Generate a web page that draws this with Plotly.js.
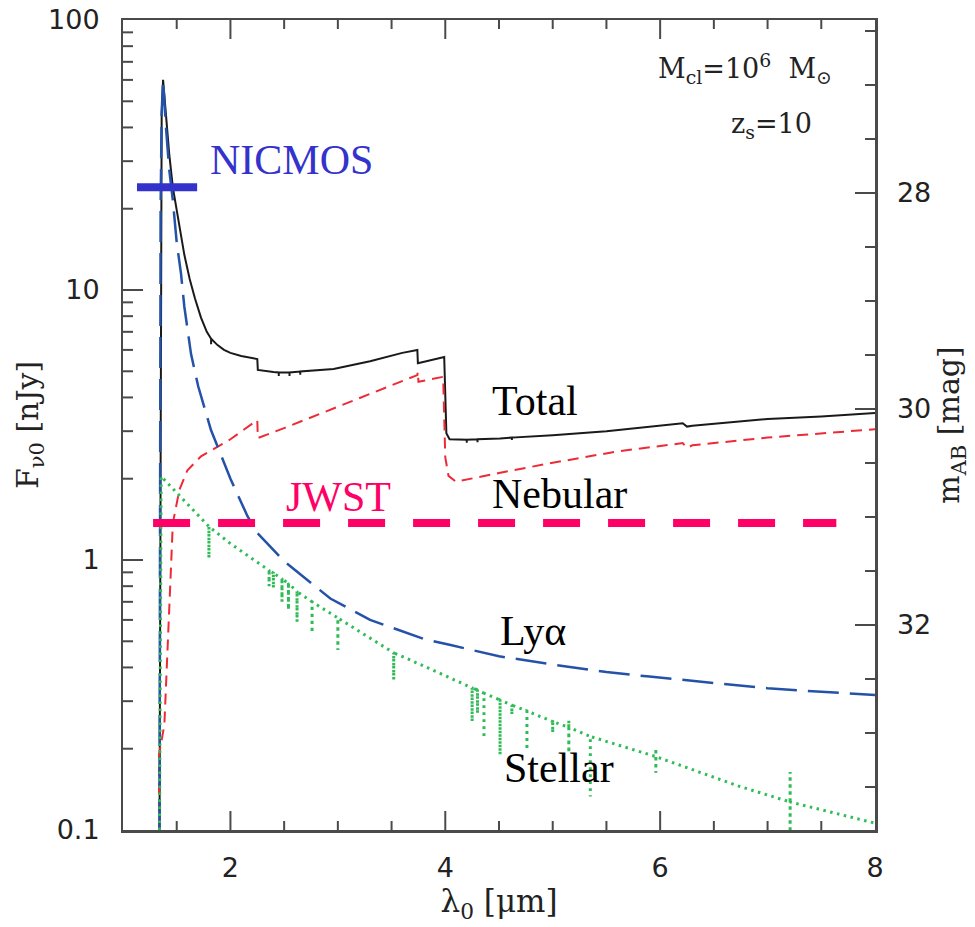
<!DOCTYPE html>
<html>
<head>
<meta charset="utf-8">
<script src="https://cdn.plot.ly/plotly-3.0.1.min.js"></script>
<style>
html,body{margin:0;padding:0;background:#fff;}
#chart{width:975px;height:927px;}
</style>
</head>
<body>
<div id="chart"></div>
<script>
// ---- data ----
// wavelength lambda_0 [micron], flux F_nu0 [nJy]
const totalX = [1.34, 1.35, 1.36, 1.373, 1.40, 1.43, 1.464, 1.51, 1.571, 1.62, 1.67, 1.726, 1.78, 1.82, 1.82, 1.82, 1.88, 1.94, 2.0, 2.1, 2.25, 2.255, 2.4, 2.45, 2.45, 2.45, 2.55, 2.55, 2.55, 2.65, 2.65, 2.65, 2.96, 3.3, 3.6, 3.74, 3.745, 3.99, 4.01, 4.04, 4.2, 4.2, 4.2, 4.3, 4.3, 4.3, 4.51, 4.62, 4.62, 4.62, 5.0, 5.5, 6.21, 6.25, 6.3, 7.0, 7.5, 8.0];
const totalY = [0.1, 5, 45, 60, 45, 32, 24, 18.5, 13.5, 11, 9.3, 7.9, 7.0, 6.6, 6.3, 6.6, 6.25, 6.0, 5.85, 5.7, 5.55, 5.06, 4.97, 4.95, 4.8, 4.95, 4.95, 4.8, 4.95, 4.99, 4.85, 4.99, 5.1, 5.45, 5.85, 6.0, 5.36, 5.65, 2.95, 2.8, 2.79, 2.72, 2.79, 2.8, 2.73, 2.8, 2.82, 2.84, 2.78, 2.84, 2.9, 3.0, 3.21, 3.12, 3.14, 3.33, 3.4, 3.5];

const nebX = [1.335, 1.335, 1.385, 1.432, 1.45, 1.464, 1.525, 1.6, 1.726, 1.88, 2.0, 2.25, 2.255, 2.5, 2.84, 3.2, 3.5, 3.74, 3.745, 3.75, 3.98, 4.0, 4.03, 4.1, 4.5, 4.97, 5.59, 6.21, 6.25, 6.3, 7.0, 8.0];
const nebY = [0.1, 0.19, 0.245, 0.73, 1.1, 1.37, 1.82, 2.15, 2.42, 2.63, 2.8, 3.3, 2.83, 3.08, 3.49, 3.97, 4.45, 4.84, 4.98, 4.57, 4.77, 2.4, 2.05, 1.95, 2.1, 2.28, 2.52, 2.71, 2.6, 2.66, 2.84, 3.05];

const lyaX = [1.34, 1.35, 1.36, 1.373, 1.40, 1.43, 1.464, 1.50, 1.54, 1.571, 1.633, 1.70, 1.819, 2.0, 2.16, 2.25, 2.5, 2.93, 3.3, 3.8, 4.05, 4.5, 5.0, 5.5, 5.9, 6.5, 7.0, 7.5, 8.0];
const lyaY = [0.1, 20, 45, 60, 40, 28, 21.5, 15, 11.5, 8.67, 5.8, 4.4, 3.03, 2.0, 1.45, 1.26, 0.99, 0.72, 0.6, 0.51, 0.484, 0.44, 0.41, 0.385, 0.37, 0.35, 0.335, 0.325, 0.316];

const stelX = [1.34, 1.355, 1.8, 1.8, 1.8, 2.0, 2.31, 2.36, 2.36, 2.36, 2.40, 2.40, 2.40, 2.48, 2.48, 2.48, 2.54, 2.54, 2.54, 2.62, 2.62, 2.62, 2.76, 2.76, 2.76, 3.0, 3.0, 3.0, 3.52, 3.52, 3.52, 3.77, 4.25, 4.25, 4.25, 4.30, 4.30, 4.30, 4.36, 4.36, 4.36, 4.51, 4.51, 4.51, 4.62, 4.62, 4.62, 4.76, 4.76, 4.76, 5.0, 5.0, 5.0, 5.15, 5.15, 5.15, 5.15, 5.35, 5.35, 5.35, 5.96, 5.96, 5.96, 5.96, 6.74, 7.21, 7.21, 7.21, 7.21, 8.0];
const stelY = [0.1, 2.04, 1.33, 1.016, 1.33, 1.15, 0.944, 0.915, 0.80, 0.915, 0.895, 0.787, 0.895, 0.85, 0.70, 0.85, 0.82, 0.653, 0.82, 0.764, 0.59, 0.764, 0.70, 0.537, 0.70, 0.61, 0.464, 0.61, 0.453, 0.36, 0.453, 0.41, 0.336, 0.252, 0.336, 0.33, 0.27, 0.33, 0.321, 0.219, 0.321, 0.303, 0.19, 0.303, 0.29, 0.267, 0.29, 0.276, 0.198, 0.276, 0.252, 0.229, 0.252, 0.24, 0.255, 0.193, 0.24, 0.222, 0.133, 0.222, 0.187, 0.201, 0.163, 0.187, 0.145, 0.127, 0.164, 0.095, 0.127, 0.106];

const nicmosX = [1.13, 1.69];
const nicmosY = [24, 24];
const jwstX = [1.28, 7.64];
const jwstY = [1.37, 1.37];

const xTicks = [2, 4, 6, 8];
const xMinor = [1.5, 2.5, 3, 3.5, 4.5, 5, 5.5, 6.5, 7, 7.5];
const yTicks = [0.1, 1, 10, 100];
const yTickText = ['0.1', '1', '10', '100'];
const yMinor = [0.2,0.3,0.4,0.5,0.6,0.7,0.8,0.9,2,3,4,5,6,7,8,9,20,30,40,50,60,70,80,90];
const magTicks = [28, 30, 32];
const magMinor = [26.5,27,27.5,28.5,29,29.5,30.5,31,31.5,32.5,33,33.5];
// AB magnitude of 1 nJy
const magZero = 31.4;
const fluxRangeLog = [-1, 2];
const xRange = [1, 8];
const toMag = f => magZero - 2.5 * Math.log10(f);

const serif = 'DejaVu Serif, serif';
const sans = 'DejaVu Sans, sans-serif';
const times = 'Liberation Serif, Times New Roman, serif';
const axCol = '#4a4a4a';
const clear = {color: 'rgba(0,0,0,0)', width: 0};
const noGrid = 'rgba(0,0,0,0)';

const W = 975, H = 927, M = {l: 123, r: 100, t: 20, b: 97};
const plotW = W - M.l - M.r, plotH = H - M.t - M.b;

const traces = [
  {x: totalX, y: totalY, mode: 'lines', line: {color: '#1a1a1a', width: 2}, hoverinfo: 'skip'},
  {x: nebX, y: nebY, mode: 'lines', line: {color: '#ee2a36', width: 2, dash: '11px,7px'}, hoverinfo: 'skip'},
  {x: lyaX, y: lyaY, mode: 'lines', line: {color: '#2452a8', width: 2.5, dash: '31px,11px'}, hoverinfo: 'skip'},
  {x: stelX, y: stelY, mode: 'lines', line: {color: '#2fbb55', width: 3, dash: '2.5px,4.5px'}, hoverinfo: 'skip'},
  {x: nicmosX, y: nicmosY, mode: 'lines', line: {color: '#3333cc', width: 8}, hoverinfo: 'skip'},
  {x: jwstX, y: jwstY, mode: 'lines', line: {color: '#ff0066', width: 8, dash: '37px,28px'}, hoverinfo: 'skip'}
];
// invisible copies of the JWST limit that anchor the magnitude axis and the label axes
traces.push({x: jwstX, y: jwstY.map(toMag), yaxis: 'y2', mode: 'lines', line: clear, hoverinfo: 'skip'});
traces.push({x: jwstX, y: jwstY, xaxis: 'x2', mode: 'lines', line: clear, hoverinfo: 'skip'});
traces.push({x: jwstX, y: jwstY, yaxis: 'y3', mode: 'lines', line: clear, hoverinfo: 'skip'});

const ann = (text, x, ylog, color, xanchor, size, family) => ({
  text: text, x: x, y: ylog, xref: 'x', yref: 'y', showarrow: false,
  xanchor: xanchor, yanchor: 'middle',
  font: {family: family || times, size: size || 42, color: color || '#000'}
});

const labelFont = {family: sans, size: 27, color: '#222'};

// axis carrying labels only (invisible outward ticks give the label gap)
const labelAx = (extra, vals, text, gap) => Object.assign({
  tickmode: 'array', tickvals: vals, ticktext: text,
  ticks: 'outside', ticklen: gap, tickwidth: 1, tickcolor: 'rgba(0,0,0,0)',
  showline: false, gridcolor: noGrid, zeroline: false, tickfont: labelFont
}, extra);

// inward tick marks on the bottom, top and left frame
const tickLine = {color: axCol, width: 2};
const shapes = [];
const xFrac = v => (v - xRange[0]) / (xRange[1] - xRange[0]);
const xTickShape = (v, len, top) => ({type: 'line', layer: 'above', xref: 'paper', yref: 'paper',
  x0: xFrac(v), x1: xFrac(v), y0: top ? 1 : 0, y1: top ? 1 - len / plotH : len / plotH, line: tickLine});
const yTickShape = (v, len) => ({type: 'line', layer: 'above', xref: 'paper', yref: 'y',
  y0: v, y1: v, x0: 0, x1: len / plotW, line: tickLine});
xTicks.filter(v => v < xRange[1]).forEach(v => { shapes.push(xTickShape(v, 19, false), xTickShape(v, 19, true)); });
xMinor.forEach(v => { shapes.push(xTickShape(v, 9, false), xTickShape(v, 9, true)); });
yTicks.slice(1, -1).forEach(v => shapes.push(yTickShape(v, 20)));
yMinor.forEach(v => shapes.push(yTickShape(v, 10)));

const layout = {
  width: W, height: H,
  margin: M,
  paper_bgcolor: '#fff', plot_bgcolor: '#fff',
  showlegend: false,
  // frame
  xaxis: {range: xRange, showline: true, linewidth: 2.5, linecolor: axCol, mirror: true,
    ticks: '', showticklabels: false, showgrid: false, zeroline: false},
  yaxis: {type: 'log', range: fluxRangeLog, showline: true, linewidth: 2.5, linecolor: axCol,
    ticks: '', showticklabels: false, showgrid: false, zeroline: false},
  // magnitude axis on the right
  yaxis2: {
    overlaying: 'y', side: 'right', anchor: 'x',
    range: [toMag(Math.pow(10, fluxRangeLog[0])), toMag(Math.pow(10, fluxRangeLog[1]))],
    tickmode: 'array', tickvals: magTicks, ticktext: magTicks.map(String),
    ticks: 'inside', ticklen: 20, tickwidth: 2, tickcolor: axCol,
    showline: true, linewidth: 2.5, linecolor: axCol, showgrid: false, zeroline: false,
    tickfont: labelFont, ticklabelstandoff: 14,
    minor: {tickmode: 'array', tickvals: magMinor, ticks: 'inside', ticklen: 10, tickwidth: 2, tickcolor: axCol, showgrid: false},
    title: {text: 'm<sub>AB</sub> [mag]', font: {family: serif, size: 30, color: '#222'}, standoff: 4}
  },
  // labels + titles
  xaxis2: labelAx({overlaying: 'x', side: 'bottom', anchor: 'y', range: xRange,
    title: {text: 'λ<sub>0</sub> [μm]', font: {family: serif, size: 31, color: '#222'}, standoff: 0}},
    xTicks, xTicks.map(String), 14),
  yaxis3: labelAx({overlaying: 'y', side: 'left', anchor: 'x', type: 'log', range: fluxRangeLog,
    title: {text: 'F<sub>ν0</sub> [nJy]', font: {family: serif, size: 30, color: '#222'}, standoff: 0}},
    yTicks, yTickText, 17),
  shapes: shapes,
  annotations: [
    ann('NICMOS', 1.79, 1.481, '#3333cc', 'left'),
    ann('JWST', 2.50, 0.233, '#ff0066', 'left'),
    ann('Total', 4.418, 0.589, '#000', 'left'),
    ann('Nebular', 4.418, 0.244, '#000', 'left'),
    ann('Lyα', 4.49, -0.262, '#000', 'left'),
    ann('Stellar', 4.53, -0.771, '#000', 'left'),
    ann('M<sub>cl</sub>=10<sup>6</sup>\u00a0 M<sub>⊙</sub>', 7.62, 1.819, '#222', 'right', 27, serif),
    ann('z<sub>s</sub>=10', 7.43, 1.611, '#222', 'right', 27, serif)
  ]
};

Plotly.newPlot('chart', traces, layout, {staticPlot: true, displayModeBar: false});
</script>
</body>
</html>
